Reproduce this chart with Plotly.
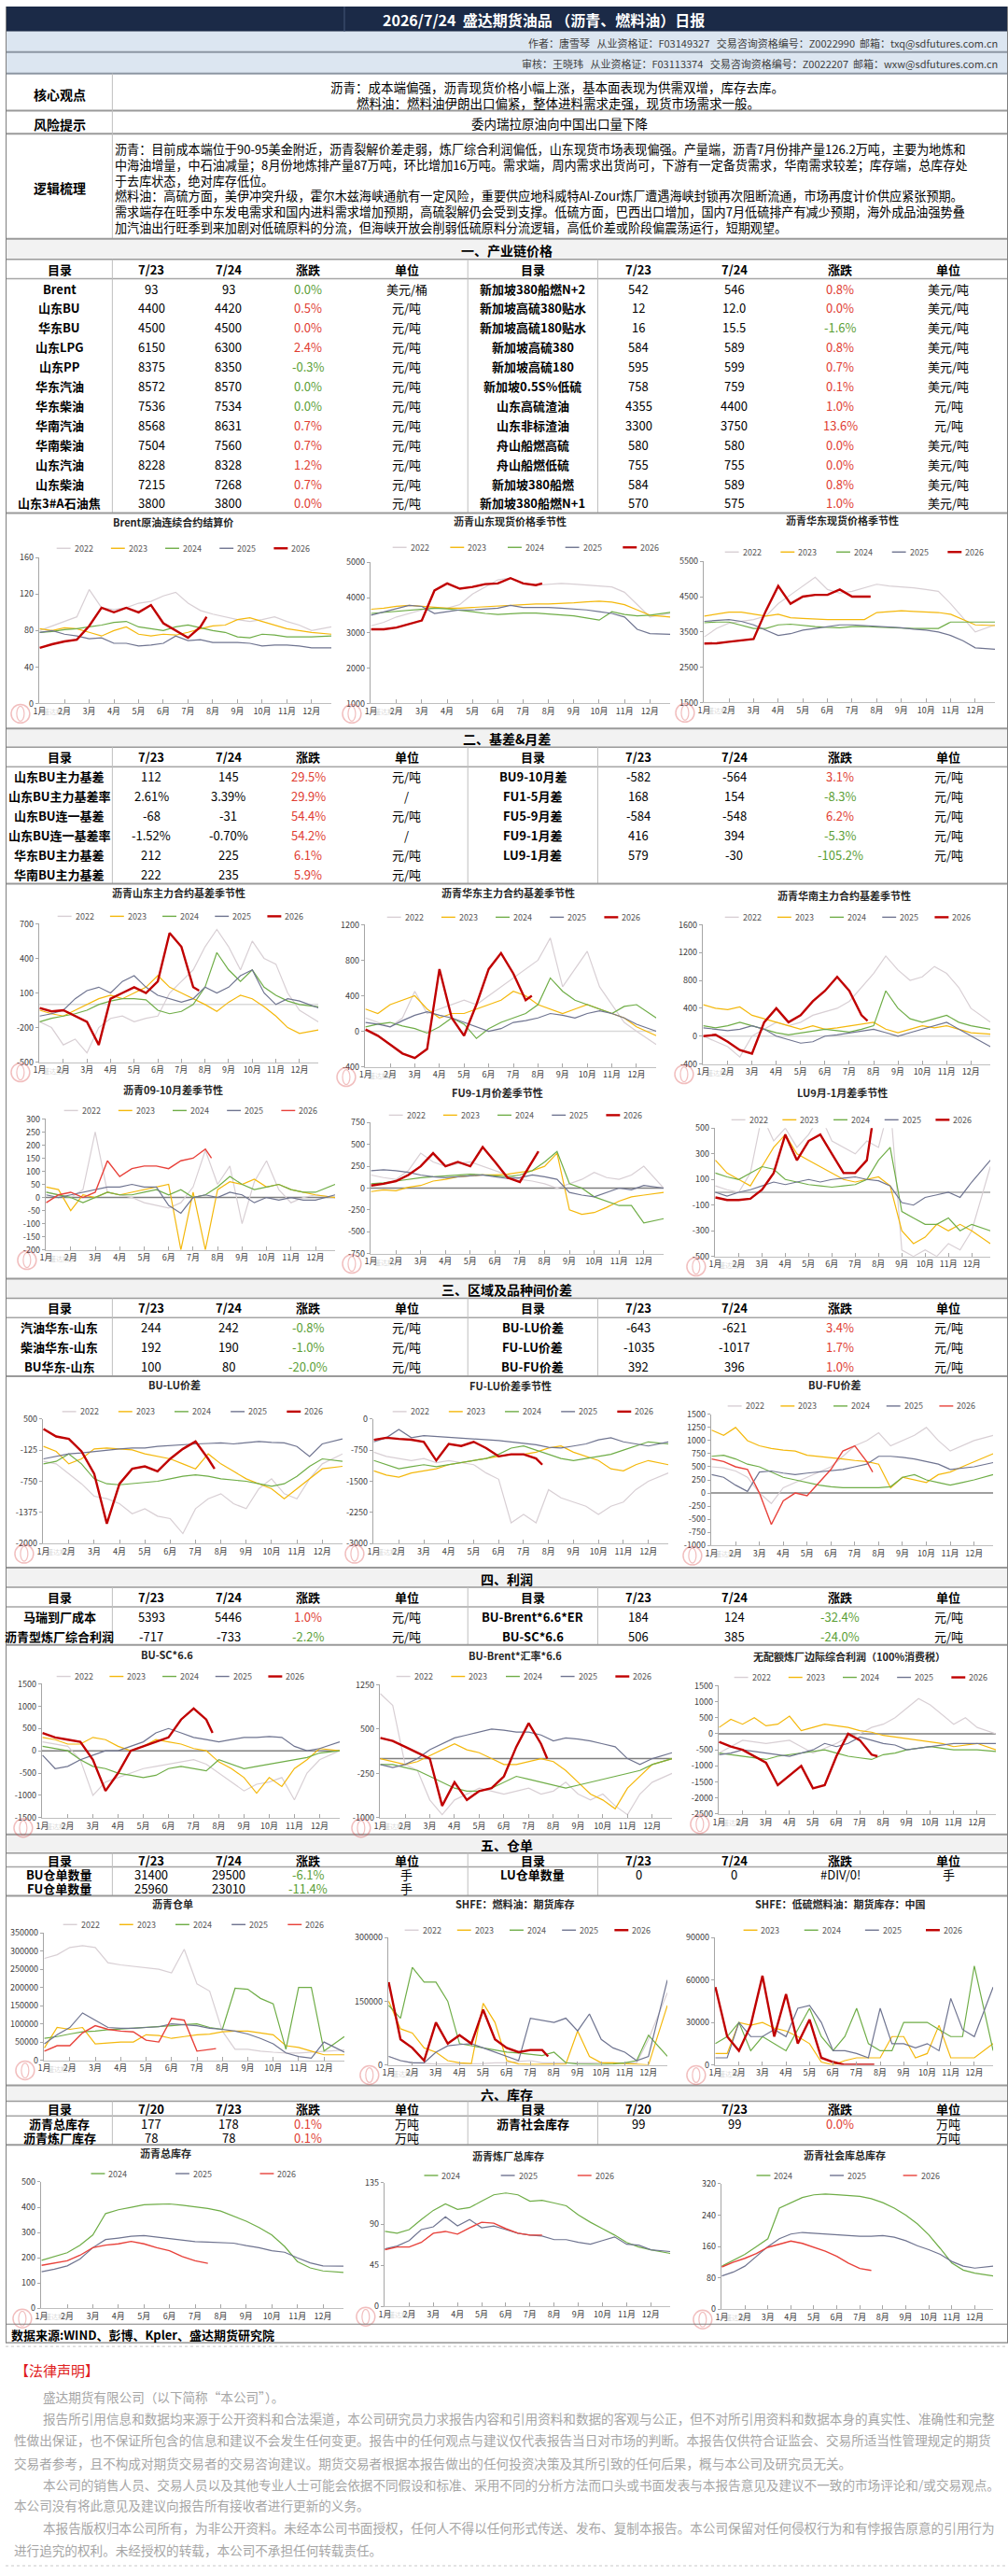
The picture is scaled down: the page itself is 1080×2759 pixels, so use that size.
import plotly.graph_objects as go

W, H = 1080, 2759
FONT = "Noto Sans CJK SC, Noto Sans, sans-serif"

NAVY = "#1b2a47"
BAND = "#dce6f1"
LINE = "#a6a6a6"
UP = "#e03c31"
DOWN = "#5b9e35"
YEAR_COLORS = {2022: "#d8cfd4", 2023: "#f4b80c", 2024: "#6fad47", 2025: "#6f7490", 2026: "#c00000"}
THIN_RED = "#e8413a"

# ---------------- text blocks ----------------
TITLE = "2026/7/24  盛达期货油品 （沥青、燃料油）日报"
AUTHOR = "作者：唐雪琴   从业资格证：F03149327   交易咨询资格编号：Z0022990  邮箱：txq@sdfutures.com.cn"
REVIEW = "审核：王晓玮   从业资格证：F03113374   交易咨询资格编号：Z0022207  邮箱：wxw@sdfutures.com.cn"
CORE = ["沥青：成本端偏强，沥青现货价格小幅上涨，基本面表现为供需双增，库存去库。",
        "燃料油：燃料油伊朗出口偏紧，整体进料需求走强，现货市场需求一般。"]
RISK = "委内瑞拉原油向中国出口量下降"
LOGIC = [
    "沥青：目前成本端位于90-95美金附近，沥青裂解价差走弱，炼厂综合利润偏低，山东现货市场表现偏强。产量端，沥青7月份排产量126.2万吨，主要为地炼和",
    "中海油增量，中石油减量；8月份地炼排产量87万吨，环比增加16万吨。需求端，周内需求出货尚可，下游有一定备货需求，华南需求较差；库存端，总库存处",
    "于去库状态，绝对库存低位。",
    "燃料油：高硫方面，美伊冲突升级，霍尔木兹海峡通航有一定风险，重要供应地科威特Al-Zour炼厂遭遇海峡封锁再次阻断流通，市场再度计价供应紧张预期。",
    "需求端存在旺季中东发电需求和国内进料需求增加预期，高硫裂解仍会受到支撑。低硫方面，巴西出口增加，国内7月低硫排产有减少预期，海外成品油强势叠",
    "加汽油出行旺季到来加剧对低硫原料的分流，但海峡开放会削弱低硫原料分流逻辑，高低价差或阶段偏震荡运行，短期观望。",
]
LEGAL = [
    (38, "盛达期货有限公司（以下简称“本公司”）。"),
    (38, "报告所引用信息和数据均来源于公开资料和合法渠道，本公司研究员力求报告内容和引用资料和数据的客观与公正，但不对所引用资料和数据本身的真实性、准确性和完整"),
    (7, "性做出保证，也不保证所包含的信息和建议不会发生任何变更。报告中的任何观点与建议仅代表报告当日对市场的判断。本报告仅供符合证监会、交易所适当性管理规定的期货"),
    (7, "交易者参考，且不构成对期货交易者的交易咨询建议。期货交易者根据本报告做出的任何投资决策及其所引致的任何后果，概与本公司及研究员无关。"),
    (38, "本公司的销售人员、交易人员以及其他专业人士可能会依据不同假设和标准、采用不同的分析方法而口头或书面发表与本报告意见及建议不一致的市场评论和/或交易观点。"),
    (7, "本公司没有将此意见及建议向报告所有接收者进行更新的义务。"),
    (38, "本报告版权归本公司所有，为非公开资料。未经本公司书面授权，任何人不得以任何形式传送、发布、复制本报告。本公司保留对任何侵权行为和有悖报告原意的引用行为"),
    (7, "进行追究的权利。未经授权的转载，本公司不承担任何转载责任。"),
]

# ---------------- tables ----------------
T1_L_NAME = ["Brent", "山东BU", "华东BU", "山东LPG", "山东PP", "华东汽油", "华东柴油", "华南汽油", "华南柴油", "山东汽油", "山东柴油", "山东3#A石油焦"]
T1_L_PREV = ["93", "4400", "4500", "6150", "8375", "8572", "7536", "8568", "7504", "8228", "7215", "3800"]
T1_L_CURR = ["93", "4420", "4500", "6300", "8350", "8570", "7534", "8631", "7560", "8328", "7268", "3800"]
T1_L_CHG = ["0.0%", "0.5%", "0.0%", "2.4%", "-0.3%", "0.0%", "0.0%", "0.7%", "0.7%", "1.2%", "0.7%", "0.0%"]
T1_L_DIR = ["d", "u", "u", "u", "d", "d", "d", "u", "u", "u", "u", "u"]
T1_L_UNIT = ["美元/桶"] + ["元/吨"] * 11
T1_R_NAME = ["新加坡380船燃N+2", "新加坡高硫380贴水", "新加坡高硫180贴水", "新加坡高硫380", "新加坡高硫180", "新加坡0.5S%低硫",
             "山东高硫渣油", "山东非标渣油", "舟山船燃高硫", "舟山船燃低硫", "新加坡380船燃", "新加坡380船燃N+1"]
T1_R_PREV = ["542", "12", "16", "584", "595", "758", "4355", "3300", "580", "755", "584", "570"]
T1_R_CURR = ["546", "12.0", "15.5", "589", "599", "759", "4400", "3750", "580", "755", "589", "575"]
T1_R_CHG = ["0.8%", "0.0%", "-1.6%", "0.8%", "0.7%", "0.1%", "1.0%", "13.6%", "0.0%", "0.0%", "0.8%", "1.0%"]
T1_R_DIR = ["u", "u", "d", "u", "u", "u", "u", "u", "u", "u", "u", "u"]
T1_R_UNIT = ["美元/吨"] * 6 + ["元/吨", "元/吨"] + ["美元/吨"] * 4

T2_L_NAME = ["山东BU主力基差", "山东BU主力基差率", "山东BU连一基差", "山东BU连一基差率", "华东BU主力基差", "华南BU主力基差"]
T2_L_PREV = ["112", "2.61%", "-68", "-1.52%", "212", "222"]
T2_L_CURR = ["145", "3.39%", "-31", "-0.70%", "225", "235"]
T2_L_CHG = ["29.5%", "29.9%", "54.4%", "54.2%", "6.1%", "5.9%"]
T2_L_DIR = ["u"] * 6
T2_L_UNIT = ["元/吨", "/", "元/吨", "/", "元/吨", "元/吨"]
T2_R_NAME = ["BU9-10月差", "FU1-5月差", "FU5-9月差", "FU9-1月差", "LU9-1月差"]
T2_R_PREV = ["-582", "168", "-584", "416", "579"]
T2_R_CURR = ["-564", "154", "-548", "394", "-30"]
T2_R_CHG = ["3.1%", "-8.3%", "6.2%", "-5.3%", "-105.2%"]
T2_R_DIR = ["u", "d", "u", "d", "d"]
T2_R_UNIT = ["元/吨"] * 5

T3_L_NAME = ["汽油华东-山东", "柴油华东-山东", "BU华东-山东"]
T3_L_PREV = ["244", "192", "100"]
T3_L_CURR = ["242", "190", "80"]
T3_L_CHG = ["-0.8%", "-1.0%", "-20.0%"]
T3_L_DIR = ["d", "d", "d"]
T3_L_UNIT = ["元/吨"] * 3
T3_R_NAME = ["BU-LU价差", "FU-LU价差", "BU-FU价差"]
T3_R_PREV = ["-643", "-1035", "392"]
T3_R_CURR = ["-621", "-1017", "396"]
T3_R_CHG = ["3.4%", "1.7%", "1.0%"]
T3_R_DIR = ["u", "u", "u"]
T3_R_UNIT = ["元/吨"] * 3

T4_L_NAME = ["马瑞到厂成本", "沥青型炼厂综合利润"]
T4_L_PREV = ["5393", "-717"]
T4_L_CURR = ["5446", "-733"]
T4_L_CHG = ["1.0%", "-2.2%"]
T4_L_DIR = ["u", "d"]
T4_L_UNIT = ["元/吨", "元/吨"]
T4_R_NAME = ["BU-Brent*6.6*ER", "BU-SC*6.6"]
T4_R_PREV = ["184", "506"]
T4_R_CURR = ["124", "385"]
T4_R_CHG = ["-32.4%", "-24.0%"]
T4_R_DIR = ["d", "d"]
T4_R_UNIT = ["元/吨", "元/吨"]

T5_L_NAME = ["BU仓单数量", "FU仓单数量"]
T5_L_PREV = ["31400", "25960"]
T5_L_CURR = ["29500", "23010"]
T5_L_CHG = ["-6.1%", "-11.4%"]
T5_L_DIR = ["d", "d"]
T5_L_UNIT = ["手", "手"]
T5_R_NAME = ["LU仓单数量", ""]
T5_R_PREV = ["0", ""]
T5_R_CURR = ["0", ""]
T5_R_CHG = ["#DIV/0!", ""]
T5_R_DIR = ["n", "n"]
T5_R_UNIT = ["手", ""]

T6_L_NAME = ["沥青总库存", "沥青炼厂库存"]
T6_L_PREV = ["177", "78"]
T6_L_CURR = ["178", "78"]
T6_L_CHG = ["0.1%", "0.1%"]
T6_L_DIR = ["u", "u"]
T6_L_UNIT = ["万吨", "万吨"]
T6_R_NAME = ["沥青社会库存", ""]
T6_R_PREV = ["99", ""]
T6_R_CURR = ["99", ""]
T6_R_CHG = ["0.0%", ""]
T6_R_DIR = ["u", "n"]
T6_R_UNIT = ["万吨", "万吨"]

# ---------------- seasonal series (x = month of year) ----------------
X_HALF = [1.0, 1.5, 2.0, 2.5, 3.0, 3.5, 4.0, 4.5, 5.0, 5.5, 6.0, 6.5,
          7.0, 7.5, 8.0, 8.5, 9.0, 9.5, 10.0, 10.5, 11.0, 11.5, 12.0, 12.8]
X_2026 = [1.0, 1.5, 2.0, 2.5, 3.0, 3.5, 4.0, 4.5, 5.0, 5.5, 6.0, 6.5, 7.0, 7.5, 7.75]
MONTH_TICKS = [1, 2, 3, 4, 5, 6, 7, 8, 9, 10, 11, 12]
MONTH_LABELS = ["1月", "2月", "3月", "4月", "5月", "6月", "7月", "8月", "9月", "10月", "11月", "12月"]

BRENT_22 = [80, 85, 90, 95, 125, 105, 103, 105, 110, 112, 118, 122, 110, 102, 98, 95, 92, 90, 92, 95, 90, 86, 80, 84]
BRENT_23 = [82, 80, 83, 82, 78, 74, 80, 84, 76, 74, 76, 75, 78, 82, 85, 86, 92, 94, 90, 86, 82, 80, 78, 76]
BRENT_24 = [78, 79, 81, 82, 84, 86, 89, 90, 84, 82, 80, 84, 86, 83, 80, 78, 73, 72, 76, 75, 73, 73, 73, 74]
BRENT_25 = [78, 80, 76, 74, 71, 72, 66, 66, 63, 64, 66, 74, 69, 70, 67, 67, 67, 66, 63, 64, 64, 63, 61, 61]
BRENT_26 = [61, 65, 68, 70, 85, 105, 100, 105, 100, 108, 88, 80, 72, 84, 95]

SD_SPOT_22 = [3200, 3300, 3450, 3550, 3650, 3700, 3700, 3800, 4100, 4300, 4500, 4550, 4400, 4350, 4380, 4400, 4380, 4350, 4330, 4300, 4150, 3800, 3450, 3550]
SD_SPOT_23 = [3670, 3700, 3750, 3780, 3750, 3720, 3700, 3700, 3720, 3740, 3750, 3780, 3800, 3820, 3820, 3830, 3850, 3880, 3900, 3870, 3800, 3650, 3500, 3450]
SD_SPOT_24 = [3550, 3580, 3620, 3650, 3680, 3700, 3680, 3650, 3600, 3550, 3520, 3540, 3560, 3560, 3540, 3520, 3480, 3420, 3360, 3600, 3520, 3480, 3500, 3580]
SD_SPOT_25 = [3500, 3600, 3700, 3780, 3750, 3550, 3600, 3650, 3650, 3680, 3700, 3780, 3720, 3720, 3720, 3700, 3680, 3650, 3600, 3550, 3450, 3100, 2980, 2960]
SD_SPOT_26 = [3100, 3100, 3150, 3250, 3350, 4200, 4400, 4250, 4300, 4380, 4400, 4550, 4400, 4350, 4400]

EC_SPOT_22 = [3360, 3600, 3750, 3800, 3850, 3950, 4300, 4550, 4800, 5050, 4700, 4600, 4650, 4750, 4850, 4800, 4780, 4750, 4700, 4650, 4300, 3900, 3500, 3700]
EC_SPOT_23 = [3950, 4000, 4060, 4060, 4000, 3950, 4000, 3900, 3880, 3860, 3850, 3850, 3850, 3850, 4050, 4080, 4100, 4080, 4060, 4050, 4000, 3850, 3700, 3680]
EC_SPOT_24 = [3760, 3780, 3780, 3700, 3600, 3600, 3700, 3720, 3680, 3650, 3630, 3620, 3650, 3660, 3640, 3620, 3600, 3600, 3600, 3600, 3780, 3780, 3780, 3780]
EC_SPOT_25 = [3800, 3820, 3850, 3800, 3700, 3550, 3400, 3450, 3550, 3600, 3650, 3700, 3700, 3680, 3660, 3640, 3620, 3580, 3550, 3500, 3400, 3250, 3050, 3010]
EC_SPOT_26 = [3170, 3180, 3220, 3260, 3300, 4100, 4800, 4300, 4500, 4550, 4550, 4700, 4500, 4500, 4500]

SD_BASIS_22 = [-150, -200, -350, -300, -420, -200, -120, -100, -150, -120, -100, 100, 200, 300, 500, 650, 500, 300, 550, 400, 350, 100, -50, -150]
SD_BASIS_23 = [-50, -80, -100, -50, 0, 50, 80, 50, 100, 150, 250, 150, 100, 50, 0, -60, 20, 80, 50, -20, -100, -200, -250, -220]
SD_BASIS_24 = [-150, -120, -100, -80, -50, 0, 30, 50, 50, 40, -50, -80, -60, 0, 150, 450, 300, 200, 300, 150, 80, 30, 0, -20]
SD_BASIS_25 = [-100, -80, -50, 50, 120, 150, 100, 200, 250, 150, 80, 50, 20, 50, 150, 100, 150, 250, 300, 100, 0, 50, 30, -30]
SD_BASIS_26 = [-30, -60, -50, -100, -150, -350, 50, 100, 150, 100, 200, 620, 500, 150, 120]

EC_BASIS_22 = [150, 100, 50, 150, 450, 200, 250, 300, 350, 300, 400, 500, 600, 700, 800, 1050, 500, 700, 900, 500, 300, 100, 0, -150]
EC_BASIS_23 = [250, 200, 300, 350, 400, 250, 150, 200, 200, 250, 300, 350, 450, 400, 300, 250, 200, 250, 300, 250, 200, 150, 50, -50]
EC_BASIS_24 = [50, 80, 100, 60, 30, -20, 50, 150, 80, -80, 30, 100, 150, 200, 300, 600, 450, 350, 300, 250, 200, 280, 300, 150]
EC_BASIS_25 = [100, 80, 50, 120, 180, 220, 180, 150, 100, 50, 0, 30, 100, 120, 150, 200, 180, 150, 200, 230, 200, 150, 80, 0]
EC_BASIS_26 = [20, -50, -150, -250, -300, -200, 700, 150, -50, 300, 700, 880, 650, 350, 400]

SCH_BASIS_22 = [0, -80, -150, -300, 0, 100, 200, 150, 200, 300, 350, 400, 500, 700, 900, 1150, 950, 800, 850, 1000, 900, 700, 400, 200]
SCH_BASIS_23 = [450, 400, 380, 420, 300, 250, 200, 150, 100, 150, 100, 120, 150, 180, 200, 100, 50, 100, 150, 120, 150, 100, 50, 30]
SCH_BASIS_24 = [150, 120, 150, 200, 150, 100, 50, 20, 50, 80, 100, 80, 60, 100, 150, 650, 400, 250, 200, 250, 300, 200, 150, 100]
SCH_BASIS_25 = [120, 100, 80, 100, 150, 100, 0, -50, -100, -80, 0, 20, 50, 80, 100, 50, 0, 50, 100, 150, 200, 100, 0, -150]
SCH_BASIS_26 = [0, 20, -80, -200, -250, 200, 400, 200, 300, 500, 650, 850, 650, 300, 220]

BU910_22 = [20, 10, 0, 30, 250, 20, 10, 0, -20, -30, -40, -20, 40, 180, 50, 120, -100, 60, 140, 30, -20, 0, 10, 0]
BU910_23 = [40, 30, -50, 10, 0, 20, 10, 20, 30, 40, 50, -200, 20, -200, 30, 60, 50, 70, 40, 50, 30, 20, 10, 0]
BU910_24 = [20, 10, 0, -20, 0, 20, 10, 10, 20, 30, 10, 30, 0, 10, 40, 80, 50, 30, 40, 50, 30, 20, 20, 50]
BU910_25 = [10, 0, 10, 20, 30, 40, 40, 50, 40, 40, -30, -60, 0, 10, 0, 20, 10, -20, 0, -10, 0, -10, -10, 10]
BU910_26 = [-20, 10, 20, 0, 20, 140, 80, 110, 120, 120, 110, 140, 150, 185, 150]

FU91_22 = [150, 120, 100, 200, 400, 300, 250, 280, 300, 250, 200, 150, 100, 80, 50, 0, 50, 100, 180, 120, 100, 150, 250, 0]
FU91_23 = [-40, -20, -30, 10, 30, 80, 100, 130, 140, 150, 150, 160, 180, 200, 250, 400, -250, -300, -280, -220, -150, -100, -80, -50]
FU91_24 = [50, 60, 80, 100, 120, 130, 140, 150, 160, 150, 140, 130, 150, 200, 300, 420, 50, 0, -100, -150, -200, -200, -400, -350]
FU91_25 = [200, 210, 200, 180, 150, 130, 120, 130, 140, 150, 130, 110, 120, 150, 130, 100, -50, -80, -100, -50, 0, -20, 30, 0]
FU91_26 = [30, 50, 80, 150, 250, 400, 250, 300, 250, 470, 300, 120, 70, 300, 420]

LU91_22 = [50, 20, 0, 150, 600, 400, 500, 350, 450, 600, 400, 350, 300, 400, 350, 700, -450, -500, -450, -500, -400, -450, -300, 200]
LU91_23 = [250, 150, 100, 50, 200, 350, 450, 300, 250, 200, 150, 100, 80, 100, 120, 50, -300, -400, -350, -250, -300, -250, -300, -400]
LU91_24 = [150, 120, 100, 150, 200, 180, 100, 80, 60, 50, 40, 50, 60, 100, 250, 350, -150, -200, -250, -250, -200, -300, -250, -300]
LU91_25 = [0, -30, 0, 20, 50, 80, 60, 80, 100, 80, 100, 110, 120, 100, 90, 50, -80, -100, -40, -20, 0, -40, 80, 250]
LU91_26 = [-40, -60, -60, -50, 20, 150, 450, 250, 400, 450, 300, 150, 150, 250, 550]

BU_LU_22 = [-350, -400, -600, -800, -1050, -1100, -1200, -1400, -1300, -1450, -1500, -1800, -1300, -1100, -1000, -1200, -1300, -900, -700, -1000, -1100, -700, -400, -200]
BU_LU_23 = [-50, -150, -400, -300, -100, -80, -100, -120, -200, -250, -300, -400, -500, -200, -400, -550, -700, -800, -900, -1100, -900, -700, -500, -450]
BU_LU_24 = [-400, -350, -200, -400, -700, -800, -820, -800, -780, -750, -700, -650, -620, -650, -700, -720, -750, -800, -850, -800, -650, -450, -300, -350]
BU_LU_25 = [-300, -250, -200, -180, -150, -120, -100, -80, -80, -50, -30, -20, 0, 10, 20, 0, 20, 50, 30, 20, -50, -250, 0, 100]
BU_LU_26 = [300, 150, 100, -150, -600, -1600, -800, -500, -450, -550, -300, -100, 50, -300, -500]

FU_LU_22 = [-800, -900, -950, -1000, -950, -1050, -1000, -1050, -1100, -1300, -1450, -2500, -2300, -2500, -1700, -1900, -2000, -2100, -2300, -2100, -2000, -1700, -1500, -1300]
FU_LU_23 = [-1250, -1350, -1400, -1300, -1250, -1200, -1100, -1050, -1000, -950, -900, -850, -850, -800, -700, -650, -800, -900, -1000, -1200, -1250, -1100, -1000, -1100]
FU_LU_24 = [-1000, -1100, -1200, -1150, -1100, -1150, -1100, -1050, -1000, -950, -850, -700, -650, -750, -850, -950, -1000, -950, -900, -850, -750, -650, -550, -600]
FU_LU_25 = [-550, -450, -250, -450, -400, -420, -430, -450, -480, -500, -520, -550, -580, -620, -680, -700, -650, -600, -500, -450, -550, -600, -650, -550]
FU_LU_26 = [-500, -450, -480, -500, -550, -1000, -600, -650, -550, -700, -900, -850, -850, -950, -1100]

BU_FU_22 = [500, 480, 420, 300, 0, -200, 100, 200, 300, 400, 500, 700, 900, 1000, 1150, 900, 1000, 1100, 1250, 1000, 800, 900, 1000, 1100]
BU_FU_23 = [1200, 1100, 1250, 1000, 900, 850, 820, 800, 720, 700, 680, 650, 620, 600, 550, 100, 300, 250, 200, 350, 400, 500, 600, 750]
BU_FU_24 = [700, 720, 650, 550, 500, 400, 300, 250, 200, 150, 120, 100, 100, 100, 100, 120, 300, 350, 250, 200, 150, 200, 250, 350]
BU_FU_25 = [350, 300, 150, 30, 400, 420, 380, 350, 380, 400, 420, 450, 500, 550, 700, 700, 680, 650, 600, 550, 450, 480, 500, 580]
BU_FU_26 = [650, 600, 500, 450, 0, -600, -150, 0, -50, 200, 450, 800, 900, 600, 400]

BU_SC_22 = [200, 150, 100, -200, -1000, -700, -600, -500, -400, -350, -300, -250, -200, -300, -500, -700, -900, -750, -700, -600, -1100, -500, -200, 0]
BU_SC_23 = [300, 250, 150, 150, 300, 250, 100, 0, 100, 250, 200, 150, 50, 0, -250, -400, -600, -950, -600, -800, -400, -200, 50, 0]
BU_SC_24 = [100, 50, 0, -200, -350, -400, -500, -550, -600, -550, -400, -350, -400, -450, -200, -300, -400, -350, -300, -250, -200, -150, -50, 0]
BU_SC_25 = [-100, -400, -350, -200, -100, 0, 0, 100, 200, 400, 500, 400, 300, 250, 200, 250, 300, 300, 320, 300, 100, 0, 50, 200]
BU_SC_26 = [400, 300, 250, 200, -200, -900, -500, 0, 100, 200, 300, 700, 950, 700, 400]

BU_BRENT_22 = [1100, 900, -100, -200, -700, -950, -700, -600, -500, -550, -600, -550, -500, -600, -550, -400, -600, -700, -600, -800, -950, -600, -400, -250]
BU_BRENT_23 = [0, -50, -100, -50, 50, 150, 250, 150, 100, 0, -100, -100, -50, 0, -50, -200, -400, -600, -700, -850, -500, -300, -100, 0]
BU_BRENT_24 = [-100, -100, -150, -200, -300, -400, -500, -550, -550, -500, -400, -300, -350, -400, -450, -500, -450, -400, -350, -300, -250, -200, -100, 0]
BU_BRENT_25 = [-100, -150, -100, 0, 150, 250, 350, 400, 450, 500, 480, 450, 450, 400, 300, 350, 330, 300, 250, 200, 0, -100, 0, 100]
BU_BRENT_26 = [350, 300, 200, 100, 0, -800, -400, -700, -550, -500, -300, 200, 600, 250, 0]

REFINE_22 = [-600, -400, -200, -250, -300, -250, -200, -400, -600, -450, -300, -100, 0, 200, 300, 500, 800, 1100, 900, 600, 300, 500, 200, 0]
REFINE_23 = [200, 450, 300, 500, 250, 300, 550, 100, 200, 300, 250, 200, 100, 50, -50, -100, -150, -200, -250, -300, -400, -350, -300, -500]
REFINE_24 = [-600, -650, -700, -750, -800, -700, -650, -600, -550, -500, -600, -700, -750, -800, -650, -600, -500, -450, -400, -450, -500, -500, -500, -550]
REFINE_25 = [-650, -600, -500, -550, -600, -650, -700, -600, -500, -300, -400, -300, -100, -200, -300, -350, -500, -450, -400, -350, -300, -300, -300, -300]
REFINE_26 = [-250, -400, -500, -700, -900, -1600, -1300, -1000, -1700, -1600, -700, 0, -200, -650, -700]

BU_WR_22 = [280000, 290000, 310000, 315000, 310000, 268000, 262000, 258000, 255000, 250000, 240000, 305000, 210000, 190000, 80000, 30000, 30000, 25000, 22000, 20000, 20000, 22000, 25000, 28000]
BU_WR_23 = [34000, 90000, 85000, 90000, 45000, 48000, 50000, 50000, 70000, 68000, 60000, 65000, 70000, 72000, 78000, 80000, 80000, 75000, 70000, 40000, 35000, 25000, 15000, 15000]
BU_WR_24 = [60000, 65000, 72000, 78000, 80000, 84000, 86000, 88000, 90000, 92000, 95000, 98000, 100000, 90000, 85000, 198000, 195000, 170000, 155000, 30000, 200000, 200000, 25000, 65000]
BU_WR_25 = [45000, 70000, 90000, 130000, 110000, 90000, 88000, 88000, 90000, 92000, 100000, 98000, 95000, 88000, 85000, 80000, 72000, 60000, 45000, 20000, 10000, 6000, 50000, 22000]
BU_WR_26 = [25000, 40000, 40000, 75000, 95000, 85000, 80000, 78000, 55000, 50000, 115000, 110000, 25000, 30000, 32000]

FU_INV_22 = [20000, 10000, 5000, 3000, 2000, 2000, 2000, 2000, 3000, 5000, 5000, 8000, 10000, 5000, 5000, 5000, 5000, 5000, 5000, 5000, 5000, 5000, 60000, 170000]
FU_INV_23 = [150000, 85000, 75000, 40000, 30000, 10000, 5000, 3000, 145000, 100000, 10000, 2000, 1000, 1000, 1000, 2000, 80000, 20000, 5000, 5000, 3000, 2000, 0, 140000]
FU_INV_24 = [140000, 110000, 230000, 195000, 195000, 150000, 50000, 45000, 40000, 35000, 30000, 28000, 25000, 22000, 30000, 5000, 2000, 1000, 1000, 2000, 5000, 10000, 70000, 20000]
FU_INV_25 = [20000, 10000, 5000, 5000, 30000, 45000, 48000, 50000, 40000, 30000, 20000, 10000, 110000, 105000, 100000, 110000, 80000, 120000, 60000, 40000, 30000, 10000, 20000, 200000]
FU_INV_26 = [195000, 60000, 40000, 10000, 100000, 50000, 70000, 50000, 130000, 60000, 40000, 30000, 35000, 35000, 20000]

LU_INV_23 = [8000, 8000, 30000, 28000, 30000, 26000, 24000, 20000, 15000, 2000, 0, 3000, 5000, 5000, 5000, 20000, 20000, 5000, 8000, 28000, 5000, 5000, 5000, 15000]
LU_INV_24 = [15000, 20000, 30000, 10000, 20000, 15000, 10000, 25000, 40000, 20000, 10000, 20000, 40000, 15000, 10000, 10000, 30000, 30000, 30000, 25000, 20000, 20000, 70000, 10000]
LU_INV_25 = [5000, 5000, 30000, 20000, 20000, 25000, 20000, 40000, 42000, 30000, 10000, 10000, 8000, 5000, 40000, 15000, 15000, 12000, 15000, 10000, 47000, 25000, 20000, 55000]
LU_INV_26 = [55000, 20000, 10000, 28000, 63000, 20000, 50000, 15000, 32000, 5000, 2000, 0, 0, 0, 0]

BU_TOTAL_24 = [190, 205, 220, 250, 290, 375, 390, 400, 410, 412, 413, 408, 402, 395, 385, 365, 345, 320, 290, 245, 185, 160, 148, 142]
BU_TOTAL_25 = [145, 155, 168, 195, 240, 272, 278, 285, 288, 282, 278, 270, 264, 262, 260, 258, 248, 240, 228, 222, 200, 180, 168, 167]
BU_TOTAL_26 = [170, 180, 188, 210, 240, 250, 255, 265, 255, 240, 228, 205, 188, 178]

BU_PLANT_24 = [82, 80, 84, 95, 105, 112, 106, 108, 115, 122, 124, 122, 115, 116, 113, 110, 100, 92, 85, 78, 70, 65, 62, 58]
BU_PLANT_25 = [63, 66, 72, 84, 87, 98, 88, 95, 86, 88, 84, 80, 78, 77, 73, 73, 70, 68, 72, 76, 68, 67, 62, 60]
BU_PLANT_26 = [62, 65, 65, 70, 80, 82, 79, 86, 92, 91, 85, 80, 78, 78]

BU_SOCIAL_24 = [110, 125, 140, 160, 180, 258, 272, 285, 292, 294, 292, 290, 288, 282, 272, 258, 240, 218, 190, 155, 118, 100, 92, 85]
BU_SOCIAL_25 = [85, 95, 110, 135, 160, 180, 192, 196, 194, 192, 190, 188, 186, 186, 188, 184, 175, 162, 152, 140, 122, 110, 105, 110]
BU_SOCIAL_26 = [108, 120, 130, 142, 158, 166, 174, 168, 158, 148, 135, 118, 104, 99]

Y5 = [2022, 2023, 2024, 2025, 2026]

CHARTS = [
    dict(title="Brent原油连续合约结算价", tpos=(180, 555), box=(36, 351, 593, 750), yr=(0, 160), yt=[0, 40, 80, 120, 160],
         leg=(55, 583, 58.5), years=Y5, data=[BRENT_22, BRENT_23, BRENT_24, BRENT_25, BRENT_26]),
    dict(title="沥青山东现货价格季节性", tpos=(544, 554), box=(393, 716, 598, 750), yr=(1000, 5000), yt=[1000, 2000, 3000, 4000, 5000],
         leg=(417, 582, 62), years=Y5, data=[SD_SPOT_22, SD_SPOT_23, SD_SPOT_24, SD_SPOT_25, SD_SPOT_26]),
    dict(title="沥青华东现货价格季节性", tpos=(902, 553), box=(752, 1066, 597, 749), yr=(1500, 5500), yt=[1500, 2500, 3500, 4500, 5500],
         leg=(775, 587, 60), years=Y5, data=[EC_SPOT_22, EC_SPOT_23, EC_SPOT_24, EC_SPOT_25, EC_SPOT_26]),
    dict(title="沥青山东主力合约基差季节性", tpos=(187, 953), box=(36, 337, 987, 1136), yr=(-500, 700), yt=[-500, -200, 100, 400, 700],
         leg=(56, 979, 56.5), years=Y5, data=[SD_BASIS_22, SD_BASIS_23, SD_BASIS_24, SD_BASIS_25, SD_BASIS_26], zero="#d9d9d9"),
    dict(title="沥青华东主力合约基差季节性", tpos=(542, 953), box=(387, 701, 988, 1141), yr=(-400, 1200), yt=[-400, 0, 400, 800, 1200],
         leg=(411, 980, 58.5), years=Y5, data=[EC_BASIS_22, EC_BASIS_23, EC_BASIS_24, EC_BASIS_25, EC_BASIS_26], zero="#d9d9d9"),
    dict(title="沥青华南主力合约基差季节性", tpos=(904, 957), box=(751, 1061, 988, 1138), yr=(-400, 1600), yt=[-400, 0, 400, 800, 1200, 1600],
         leg=(775, 980, 56.5), years=Y5, data=[SCH_BASIS_22, SCH_BASIS_23, SCH_BASIS_24, SCH_BASIS_25, SCH_BASIS_26], zero="#d9d9d9"),
    dict(title="沥青09-10月差季节性", tpos=(180, 1165), box=(43, 355, 1197, 1338), yr=(-200, 300),
         yt=[-200, -150, -100, -50, 0, 50, 100, 150, 200, 250, 300],
         leg=(63, 1188, 58.5), years=Y5, data=[BU910_22, BU910_23, BU910_24, BU910_25, BU910_26], zero="#7f7f7f", bold=False),
    dict(title="FU9-1月价差季节性", tpos=(530, 1169), box=(393, 709, 1201, 1342), yr=(-750, 750), yt=[-750, -500, -250, 0, 250, 500, 750],
         leg=(413, 1193, 58.5), years=Y5, data=[FU91_22, FU91_23, FU91_24, FU91_25, FU91_26], zero="#7f7f7f"),
    dict(title="LU9月-1月差季节性", tpos=(902, 1169), box=(764, 1061, 1207, 1345), yr=(-500, 500), yt=[-500, -300, -100, 100, 300, 500],
         leg=(782, 1198, 55), years=Y5, data=[LU91_22, LU91_23, LU91_24, LU91_25, LU91_26], zero="#a6a6a6"),
    dict(title="BU-LU价差", tpos=(182, 1483), box=(40, 363, 1520, 1654), yr=(-2000, 500), yt=[-2000, -1375, -750, -125, 500],
         leg=(61, 1512, 60.5), years=Y5, data=[BU_LU_22, BU_LU_23, BU_LU_24, BU_LU_25, BU_LU_26]),
    dict(title="FU-LU价差季节性", tpos=(544, 1484), box=(396, 714, 1520, 1654), yr=(-3000, 0), yt=[-3000, -2250, -1500, -750, 0],
         leg=(417, 1512, 60.5), years=Y5, data=[FU_LU_22, FU_LU_23, FU_LU_24, FU_LU_25, FU_LU_26]),
    dict(title="BU-FU价差", tpos=(893, 1483), box=(760, 1064, 1515, 1656), yr=(-1000, 1500),
         yt=[-1000, -750, -500, -250, 0, 250, 500, 750, 1000, 1250, 1500],
         leg=(778, 1506, 57), years=Y5, data=[BU_FU_22, BU_FU_23, BU_FU_24, BU_FU_25, BU_FU_26], zero="#7f7f7f", bold=False),
    dict(title="BU-SC*6.6", tpos=(174, 1773), box=(39, 360, 1805, 1949), yr=(-1500, 1500),
         yt=[-1500, -1000, -500, 0, 500, 1000, 1500],
         leg=(55, 1797, 57), years=Y5, data=[BU_SC_22, BU_SC_23, BU_SC_24, BU_SC_25, BU_SC_26], zero="#7f7f7f"),
    dict(title="BU-Brent*汇率*6.6", tpos=(549, 1774), box=(403, 718, 1806, 1949), yr=(-1000, 1250), yt=[-1000, -250, 500, 1250],
         leg=(421, 1797, 59), years=Y5, data=[BU_BRENT_22, BU_BRENT_23, BU_BRENT_24, BU_BRENT_25, BU_BRENT_26], zero="#7f7f7f"),
    dict(title="无配额炼厂边际综合利润（100%消费税）", tpos=(909, 1775), box=(768, 1067, 1807, 1945), yr=(-2500, 1500),
         yt=[-2500, -2000, -1500, -1000, -500, 0, 500, 1000, 1500],
         leg=(785, 1798, 58.5), years=Y5, data=[REFINE_22, REFINE_23, REFINE_24, REFINE_25, REFINE_26], zero="#7f7f7f"),
    dict(title="沥青仓单", tpos=(180, 2042), box=(41, 365, 2073, 2210), yr=(0, 350000),
         yt=[0, 50000, 100000, 150000, 200000, 250000, 300000, 350000],
         leg=(62, 2064, 60.5), years=Y5, data=[BU_WR_22, BU_WR_23, BU_WR_24, BU_WR_25, BU_WR_26], bold=False),
    dict(title="SHFE：燃料油：期货库存", tpos=(549, 2042), box=(412, 713, 2078, 2215), yr=(0, 300000), yt=[0, 150000, 300000],
         leg=(430, 2070, 56.5), years=Y5, data=[FU_INV_22, FU_INV_23, FU_INV_24, FU_INV_25, FU_INV_26]),
    dict(title="SHFE：低硫燃料油：期货库存：中国", tpos=(899, 2042), box=(764, 1064, 2078, 2215), yr=(0, 90000), yt=[0, 30000, 60000, 90000],
         leg=(795, 2070, 65.5), years=[2023, 2024, 2025, 2026], data=[LU_INV_23, LU_INV_24, LU_INV_25, LU_INV_26]),
    dict(title="沥青总库存", tpos=(172, 2310), box=(38, 364, 2341, 2477), yr=(0, 500), yt=[0, 100, 200, 300, 400, 500],
         leg=(92, 2332, 91), years=[2024, 2025, 2026], data=[BU_TOTAL_24, BU_TOTAL_25, BU_TOTAL_26], bold=False),
    dict(title="沥青炼厂总库存", tpos=(542, 2313), box=(408, 716, 2342, 2475), yr=(0, 135), yt=[0, 45, 90, 135],
         leg=(451, 2334, 82.6), years=[2024, 2025, 2026], data=[BU_PLANT_24, BU_PLANT_25, BU_PLANT_26], bold=False),
    dict(title="沥青社会库总库存", tpos=(904, 2312), box=(771, 1064, 2343, 2478), yr=(0, 320), yt=[0, 80, 160, 240, 320],
         leg=(809, 2334, 79), years=[2024, 2025, 2026], data=[BU_SOCIAL_24, BU_SOCIAL_25, BU_SOCIAL_26], bold=False),
]

# ---------------- helpers ----------------
shapes, annos = [], []


def X(v):
    return v / W


def Y(v):
    return 1 - v / H


def text(x, y, s, size=13, color="#000000", anchor="center", bold=False):
    annos.append(dict(x=X(x), y=Y(y), xref="paper", yref="paper", showarrow=False,
                      text=f"<b>{s}</b>" if bold else s, xanchor=anchor, yanchor="middle",
                      font=dict(size=size, color=color, family=FONT)))


def rect(x0, y0, x1, y1, fill):
    shapes.append(dict(type="rect", xref="paper", yref="paper", x0=X(x0), x1=X(x1), y0=Y(y1), y1=Y(y0),
                       fillcolor=fill, line=dict(width=0), layer="below"))


def hline(x0, x1, y, color=LINE, w=1, dash="solid"):
    shapes.append(dict(type="line", xref="paper", yref="paper", x0=X(x0), x1=X(x1), y0=Y(y), y1=Y(y),
                       line=dict(color=color, width=w, dash=dash)))


def vline(x, y0, y1, color=LINE, w=1):
    shapes.append(dict(type="line", xref="paper", yref="paper", x0=X(x), x1=X(x), y0=Y(y0), y1=Y(y1),
                       line=dict(color=color, width=w)))


COLS = [58, 157, 240, 326, 432, 568, 682, 785, 899, 1016]


def band(y0, y1, label):
    rect(0, y0, W, y1, "#f2f2f2")
    hline(0, W, y0, "#9a9a9a", 2)
    hline(0, W, y1, "#9a9a9a", 1.5)
    text(540, (y0 + y1) / 2 + 1, label, size=14, bold=True)


def table(top, head_h, row_h, dates, left, right, bottom):
    heads = ["目录", dates[0], dates[1], "涨跌", "单位"]
    for k, hd in enumerate(heads + heads):
        text(COLS[k], top + head_h / 2, hd, size=13, bold=True)
    hline(0, W, top + head_h, LINE, 1.5)
    for side, cols in ((left, COLS[:5]), (right, COLS[5:])):
        names, prev, curr, chg, dirs, units = side
        for r in range(len(names)):
            yc = top + head_h + row_h * (r + 0.5)
            col = {"u": UP, "d": DOWN}.get(dirs[r], "#000000")
            text(cols[0], yc, names[r], size=13, bold=True)
            text(cols[1], yc, prev[r], size=13)
            text(cols[2], yc, curr[r], size=13)
            text(cols[3], yc, chg[r], size=13, color=col)
            text(cols[4], yc, units[r], size=13)
    for vx in (115, 498, 638):
        vline(vx, top, bottom, "#bfbfbf", 1)
    hline(0, W, bottom, "#9a9a9a", 2)


# ---------------- header ----------------
rect(0, 0, W, 27, NAVY)
vline(365, 0, 27, "#46577a", 1)
text(580, 14, TITLE, size=16, color="#ffffff", bold=True)
rect(0, 27, W, 72, BAND)
hline(0, W, 49, "#8c96a3", 2)
hline(0, W, 72, "#8c96a3", 2)
text(1071, 39, AUTHOR, size=11, color="#404040", anchor="right")
text(1071, 61, REVIEW, size=11, color="#404040", anchor="right")

text(58, 94, "核心观点", size=14, bold=True)
text(594, 86, CORE[0], size=13.5)
text(595, 103, CORE[1], size=13.5)
hline(0, W, 112, "#9a9a9a", 2)
text(58, 127, "风险提示", size=14, bold=True)
text(597, 126, RISK, size=13.5)
hline(0, W, 137, "#9a9a9a", 2)
text(58, 195, "逻辑梳理", size=14, bold=True)
for ly, line in zip([153, 170, 187, 203, 221, 238], LOGIC):
    text(116, ly, line, size=13.1, anchor="left")
vline(115, 72, 250, "#bfbfbf", 1)

# ---------------- sections & tables ----------------
band(250, 272, "一、产业链价格")
table(272, 21, 21, ("7/23", "7/24"),
      (T1_L_NAME, T1_L_PREV, T1_L_CURR, T1_L_CHG, T1_L_DIR, T1_L_UNIT),
      (T1_R_NAME, T1_R_PREV, T1_R_CURR, T1_R_CHG, T1_R_DIR, T1_R_UNIT), 545)
band(777, 797, "二、基差&月差")
table(797, 21, 21, ("7/23", "7/24"),
      (T2_L_NAME, T2_L_PREV, T2_L_CURR, T2_L_CHG, T2_L_DIR, T2_L_UNIT),
      (T2_R_NAME, T2_R_PREV, T2_R_CURR, T2_R_CHG, T2_R_DIR, T2_R_UNIT), 944)
band(1369, 1390, "三、区域及品种间价差")
table(1390, 21, 21, ("7/23", "7/24"),
      (T3_L_NAME, T3_L_PREV, T3_L_CURR, T3_L_CHG, T3_L_DIR, T3_L_UNIT),
      (T3_R_NAME, T3_R_PREV, T3_R_CURR, T3_R_CHG, T3_R_DIR, T3_R_UNIT), 1474)
band(1680, 1701, "四、利润")
table(1701, 21, 21, ("7/23", "7/24"),
      (T4_L_NAME, T4_L_PREV, T4_L_CURR, T4_L_CHG, T4_L_DIR, T4_L_UNIT),
      (T4_R_NAME, T4_R_PREV, T4_R_CURR, T4_R_CHG, T4_R_DIR, T4_R_UNIT), 1763)
band(1967, 1987, "五、仓单")
table(1987, 15, 15.5, ("7/23", "7/24"),
      (T5_L_NAME, T5_L_PREV, T5_L_CURR, T5_L_CHG, T5_L_DIR, T5_L_UNIT),
      (T5_R_NAME, T5_R_PREV, T5_R_CURR, T5_R_CHG, T5_R_DIR, T5_R_UNIT), 2033)
band(2237, 2254, "六、库存")
table(2254, 16, 15.5, ("7/20", "7/23"),
      (T6_L_NAME, T6_L_PREV, T6_L_CURR, T6_L_CHG, T6_L_DIR, T6_L_UNIT),
      (T6_R_NAME, T6_R_PREV, T6_R_CURR, T6_R_CHG, T6_R_DIR, T6_R_UNIT), 2301)

# ---------------- charts ----------------
fig = go.Figure()
layout = {}
for i, c in enumerate(CHARTS, start=1):
    x0, x1, yt, yb = c["box"]
    n = "" if i == 1 else str(i)
    bold26 = c.get("bold", True)
    layout[f"xaxis{n}"] = dict(domain=[X(x0), X(x1)], anchor=f"y{n}", range=[0.97, 12.8],
                               tickvals=MONTH_TICKS, ticktext=MONTH_LABELS, ticks="inside", ticklen=4,
                               tickcolor="#a6a6a6", showline=True, linecolor="#bfbfbf", showgrid=False,
                               zeroline=False, tickfont=dict(size=9, color="#404040"), fixedrange=True)
    layout[f"yaxis{n}"] = dict(domain=[Y(yb), Y(yt)], anchor=f"x{n}", range=list(c["yr"]),
                               tickvals=c["yt"], ticktext=[str(v) for v in c["yt"]], ticks="outside",
                               ticklen=3, tickcolor="#a6a6a6", showline=True, linecolor="#a6a6a6",
                               showgrid=False, zeroline=False, tickfont=dict(size=9, color="#404040"),
                               fixedrange=True)
    if c.get("zero"):
        shapes.append(dict(type="line", xref=f"x{n}", yref=f"y{n}", x0=0.97, x1=12.8, y0=0, y1=0,
                           line=dict(color=c["zero"], width=1.5), layer="below"))
    for yr, vals in zip(c["years"], c["data"]):
        if yr == 2026:
            xs = X_2026[:len(vals)]
            color, width = (YEAR_COLORS[2026], 2.4) if bold26 else (THIN_RED, 1.4)
        else:
            xs = X_HALF[:len(vals)]
            color, width = YEAR_COLORS[yr], 1.2
        fig.add_trace(go.Scatter(x=xs, y=vals, mode="lines", line=dict(color=color, width=width),
                                 xaxis=f"x{n}", yaxis=f"y{n}", hoverinfo="skip", showlegend=False))
    # title + hand drawn legend
    text(c["tpos"][0], c["tpos"][1], c["title"], size=11, color="#262626", bold=True)
    lx, ly, step = c["leg"]
    for k, yr in enumerate(c["years"]):
        sx = lx + k * step
        if yr == 2026:
            lc, lw = (YEAR_COLORS[2026], 2.4) if bold26 else (THIN_RED, 1.4)
        else:
            lc, lw = YEAR_COLORS[yr], 1.4
        hline(sx, sx + 15, ly, lc, lw)
        text(sx + 17, ly, str(yr), size=9, color="#595959", anchor="left")
    # faint company logo
    cx, cy = x0 - 20, yb + 11
    shapes.append(dict(type="circle", xref="paper", yref="paper", x0=X(cx - 10), x1=X(cx + 10),
                       y0=Y(cy + 10), y1=Y(cy - 10), line=dict(color="rgba(214,70,70,0.35)", width=1.5)))
    shapes.append(dict(type="circle", xref="paper", yref="paper", x0=X(cx - 4), x1=X(cx + 4),
                       y0=Y(cy + 8), y1=Y(cy - 8), line=dict(color="rgba(214,70,70,0.35)", width=1.2)))
    text(x0 + 18, yb + 9, "盛达期货", size=7, color="rgba(160,160,160,0.45)")

# chart row separators / outer frame
hline(0, W, 2494, "#7f7f7f", 1)
text(4, 2505, "数据来源:WIND、彭博、Kpler、盛达期货研究院", size=13, anchor="left", bold=True)
hline(0, W, 2514, "#7f7f7f", 1.2)
vline(0.5, 0, 2514, "#7f7f7f", 1)
vline(1079.5, 0, 2514, "#7f7f7f", 1)
hline(0, W, 2518, "#c8c8c8", 1, "dot")

# ---------------- legal ----------------
text(8, 2543, "【法律声明】", size=15, color="#e02020", anchor="left")
for ly, (lx, line) in zip([2572, 2595, 2618, 2643, 2667, 2689, 2713, 2737], LEGAL):
    text(lx, ly, line, size=13.6, color="#a6a6a6", anchor="left")
hline(0, W, 2754, "#c8c8c8", 1, "dot")

fig.update_layout(width=W, height=H, margin=dict(l=0, r=0, t=0, b=0), autosize=False,
                  paper_bgcolor="white", plot_bgcolor="rgba(0,0,0,0)", showlegend=False,
                  font=dict(family=FONT), shapes=shapes, annotations=annos, **layout)

fig.write_html("out.html", config={"displayModeBar": False},
               post_script="document.body.style.margin='0px';")
